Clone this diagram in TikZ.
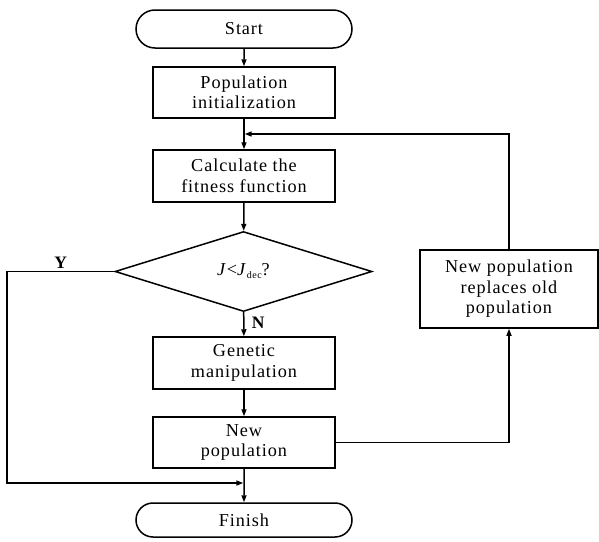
\documentclass[tikz,border=0pt]{standalone}
\usepackage{fontspec}
\setmainfont{Liberation Serif}[LetterSpace=5]
\usetikzlibrary{arrows.meta,shapes.geometric,shapes.misc}
\begin{document}
\begin{tikzpicture}[x=1pt,y=-1pt,
  every node/.style={font=\fontsize{18.2}{20.5}\selectfont},
  box/.style={draw, line width=1.5pt, minimum width=182pt, minimum height=52pt, align=center, inner sep=0pt},
  term/.style={draw, line width=1.5pt, rounded rectangle, minimum width=216pt, minimum height=38pt, inner sep=0pt},
  dia/.style={draw, line width=1.5pt, diamond, minimum width=257pt, minimum height=80pt, inner sep=0pt},
  arr/.style={line width=1.5pt, -{Triangle[length=7pt,width=5pt]}},
  lab/.style={font=\fontsize{17.5}{20}\selectfont\bfseries}]
\useasboundingbox (0,0) rectangle (599,541);
\node[term] (start) at (244,29) {Start};
\node[box, minimum height=51pt] (init) at (244,92.5) {Population\\initialization};
\node[box] (calc) at (244,176) {Calculate the\\fitness function};
\node[dia] (dec) at (243.5,271.5) {\textit{J}<\textit{J}\raisebox{-3pt}{\fontsize{10}{10}\selectfont dec}?};
\node[box] (gen) at (244,363) {Genetic\\manipulation};
\node[box, minimum height=51pt] (newp) at (244,442.5) {New\\population};
\node[term, minimum height=34pt] (finish) at (244,520) {Finish};
\node[box, minimum width=178pt, minimum height=78pt] (repl) at (509,289) {New population\\replaces old\\population};
\coordinate (yl) at (7,271.5);
\coordinate (yb) at (7,483);
\coordinate (ym) at (243.3,483);
\coordinate (fb) at (244.7,134);
\draw[arr] (start) -- (init);
\draw[arr] (init) -- (calc);
\draw[arr] (calc) -- (dec);
\draw[arr] (dec) -- node[lab, right, xshift=4pt, yshift=1pt] {N} (gen);
\draw[arr] (gen) -- (newp);
\draw[arr] (newp) -- (finish);
\draw[arr] (dec.west) -- node[lab, above, pos=0.5, yshift=-1pt] {Y} (yl) -- (yb) -- (ym);
\draw[arr] (newp.east) -- (newp.east -| repl.south) -- (repl.south);
\draw[arr] (repl.north) |- (fb);
\end{tikzpicture}
\end{document}
